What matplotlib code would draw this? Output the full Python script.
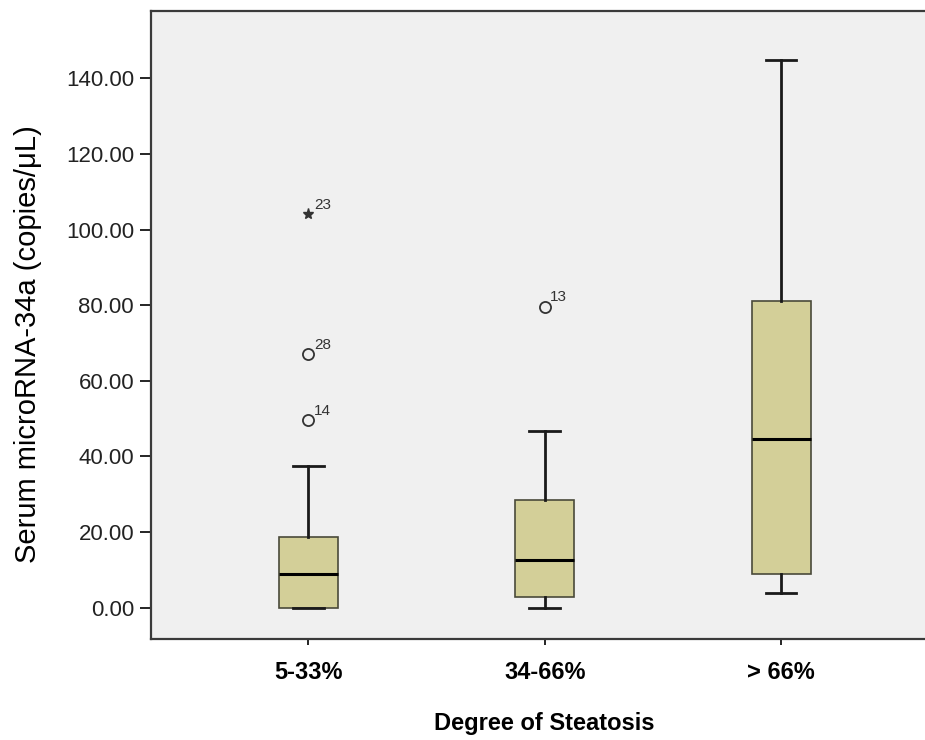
import matplotlib
matplotlib.use('Agg')
import matplotlib.pyplot as plt

# Box statistics (copies/uL)
groups = ['5-33%', '34-66%', '> 66%']
whislo = [0.0, 0.0, 4.0]
q1 = [0.0, 2.9, 8.8]
med = [8.8, 12.6, 44.5]
q3 = [18.8, 28.4, 81.0]
whishi = [37.4, 46.7, 144.8]

# mild outliers (circles) and extreme outliers (stars) with case numbers
outlier_group = [1, 1, 2]
outlier_val = [49.6, 67.0, 79.6]
outlier_id = ['14', '28', '13']
extreme_group = [1]
extreme_val = [104.0]
extreme_id = ['23']

yticks = [0, 20, 40, 60, 80, 100, 120, 140]

plt.rcParams['font.family'] = ['Liberation Sans', 'DejaVu Sans']

fig = plt.figure(figsize=(9.25, 7.4), dpi=100)
ax = fig.add_axes([0.163, 0.137, 0.85, 0.848])
ax.set_facecolor('#f0f0f0')

stats = []
for i in range(len(groups)):
    stats.append({'whislo': whislo[i], 'q1': q1[i], 'med': med[i],
                  'q3': q3[i], 'whishi': whishi[i], 'fliers': []})

ax.bxp(stats, positions=[1, 2, 3], widths=0.25, patch_artist=True,
       showfliers=False,
       boxprops=dict(facecolor='#d3cf98', edgecolor='#4a4a3a', linewidth=1.2),
       medianprops=dict(color='black', linewidth=2.2),
       whiskerprops=dict(color='#1a1a1a', linewidth=2),
       capprops=dict(color='#1a1a1a', linewidth=2),
       capwidths=0.13)

ax.plot(outlier_group, outlier_val, 'o', mfc='none', mec='#333333',
        mew=1.3, ms=8, zorder=3)
ax.plot(extreme_group, extreme_val, '*', color='#333333', ms=8, zorder=3)

for g, v, t in zip(outlier_group + extreme_group,
                   outlier_val + extreme_val,
                   outlier_id + extreme_id):
    ax.annotate(t, (g, v), xytext=(4, 4), textcoords='offset points',
                fontsize=11, color='#333333')

ax.set_xlim(0.333, 3.66)
ax.set_ylim(-8.2, 157.8)
ax.set_yticks(yticks)
ax.set_yticklabels([f'{v:.2f}' for v in yticks], fontsize=16, color='#222222')
ax.set_xticks([1, 2, 3])
ax.set_xticklabels(groups, fontsize=17, fontweight='bold')
ax.tick_params(axis='x', length=4, width=1.2, pad=12)
ax.tick_params(axis='y', length=8, width=1.2, pad=4)

for side in ['left', 'bottom', 'top']:
    ax.spines[side].set_color('#3a3a3a')
    ax.spines[side].set_linewidth(1.6)
ax.spines['right'].set_visible(False)

ax.set_ylabel('Serum microRNA-34a (copies/\u03bcL)', fontsize=21)
ax.yaxis.set_label_coords(-0.138, 0.469)
ax.set_xlabel('Degree of Steatosis', fontsize=17, fontweight='bold', labelpad=20)

fig.savefig('out.png', dpi=100, facecolor='white')
